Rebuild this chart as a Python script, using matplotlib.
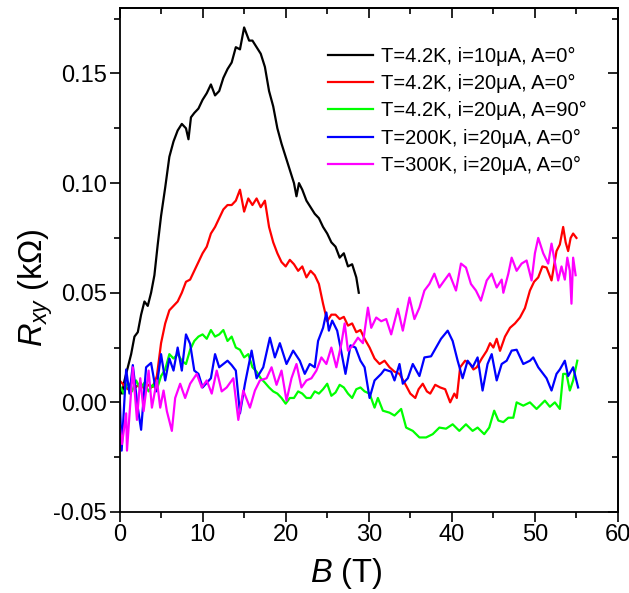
import matplotlib
matplotlib.use("Agg")
import matplotlib.pyplot as plt
from matplotlib.ticker import MultipleLocator

plt.rcParams['font.family'] = ['Liberation Sans', 'DejaVu Sans']
plt.rcParams['mathtext.fontset'] = 'custom'
plt.rcParams['mathtext.rm'] = 'Liberation Sans'
plt.rcParams['mathtext.it'] = 'Liberation Sans:italic'

# T=4.2K, i=10uA, A=0
bx = [0, 0.3, 0.6, 1.0, 1.4, 1.8, 2.2, 2.6, 3.0, 3.4, 3.8, 4.2, 4.6, 5.0, 5.5, 6.0, 6.5, 7.0, 7.5, 8.0,
      8.3, 8.6, 9.0, 9.5, 10.0, 10.5, 11.0, 11.5, 12.0, 12.5, 13.0, 13.5, 14.0, 14.5, 15.0, 15.3, 15.6, 16.0, 16.5, 17.0,
      17.5, 18.0, 18.5, 19.0, 19.5, 20.0, 20.5, 21.0, 21.3, 21.6, 22.0, 22.5, 23.0, 23.5, 24.0, 24.5, 25.0, 25.5, 26.0, 26.5,
      27.0, 27.5, 28.0, 28.5, 28.8]
by = [0.006, 0.004, 0.01, 0.016, 0.022, 0.03, 0.032, 0.04, 0.046, 0.044, 0.05, 0.058, 0.072, 0.085, 0.098, 0.112, 0.119, 0.124, 0.127, 0.125,
      0.12, 0.13, 0.132, 0.134, 0.138, 0.141, 0.145, 0.14, 0.142, 0.148, 0.152, 0.155, 0.162, 0.161, 0.171, 0.168, 0.165, 0.165, 0.162, 0.159,
      0.153, 0.142, 0.135, 0.125, 0.118, 0.112, 0.106, 0.1, 0.094, 0.1, 0.097, 0.092, 0.089, 0.086, 0.084, 0.08, 0.077, 0.073, 0.071, 0.066,
      0.068, 0.062, 0.063, 0.057, 0.05]

# T=4.2K, i=20uA, A=0
rx = [0, 0.5, 1.0, 1.5, 2.0, 2.5, 3.0, 3.5, 4.0, 4.5, 5.0, 5.5, 6.0, 6.5, 7.0, 7.5, 8.0, 8.5, 9.0, 9.5,
      10.0, 10.5, 11.0, 11.5, 12.0, 12.5, 13.0, 13.5, 14.0, 14.5, 15.0, 15.5, 16.0, 16.5, 17.0, 17.5, 18.0, 18.5, 19.0, 19.5,
      20.0, 20.5, 21.0, 21.5, 22.0, 22.5, 23.0, 23.5, 24.0, 24.5, 25.0, 25.5, 26.0, 26.5, 27.0, 27.5, 28.0, 28.5, 29.0, 29.5,
      30.1, 30.7, 31.3, 31.9, 32.5, 33.1, 33.7, 34.3, 35.0, 35.6, 36.0, 36.5, 37.0, 37.4, 38.0, 38.6, 39.2, 39.8, 40.3, 40.6,
      41.0, 41.6, 42.2, 42.6, 43.0, 43.6, 44.2, 44.6, 45.0, 45.4, 45.8, 46.4, 47.0, 47.6, 48.2, 48.8, 49.4, 49.9, 50.4, 50.9,
      51.4, 52.0, 52.6, 53.0, 53.4, 53.7, 54.0, 54.3, 54.6, 55.0]
ry = [0.01, 0.008, 0.006, 0.01, 0.007, 0.009, 0.006, 0.008, 0.007, 0.012, 0.027, 0.036, 0.042, 0.044, 0.046, 0.05, 0.055, 0.056, 0.06, 0.064,
      0.068, 0.071, 0.077, 0.08, 0.084, 0.088, 0.09, 0.09, 0.092, 0.097, 0.087, 0.093, 0.09, 0.093, 0.089, 0.092, 0.08, 0.073, 0.068, 0.064,
      0.062, 0.065, 0.063, 0.06, 0.062, 0.057, 0.06, 0.058, 0.054, 0.045, 0.037, 0.04, 0.04, 0.038, 0.039, 0.035, 0.036, 0.032, 0.033, 0.029,
      0.025, 0.02, 0.0175, 0.019, 0.016, 0.014, 0.013, 0.009, 0.004, 0.002, 0.006, 0.0085, 0.005, 0.004, 0.008, 0.0068, 0.006, 0.0, 0.004, 0.002,
      0.016, 0.019, 0.0175, 0.015, 0.016, 0.02, 0.0235, 0.027, 0.025, 0.029, 0.0235, 0.03, 0.034, 0.036, 0.0387, 0.043, 0.051, 0.055, 0.057, 0.062,
      0.0615, 0.0556, 0.069, 0.072, 0.08, 0.073, 0.069, 0.075, 0.077, 0.075]

# T=4.2K, i=20uA, A=90
gx = [0, 0.5, 1.0, 1.5, 2.0, 2.5, 3.0, 3.5, 4.0, 4.5, 5.0, 5.5, 6.0, 6.5, 7.0, 7.5, 8.0, 8.5, 9.0, 9.5,
      10.0, 10.5, 11.0, 11.5, 12.0, 12.5, 13.0, 13.5, 14.0, 14.5, 15.0, 15.5, 16.0, 16.5, 17.0, 17.5, 18.0, 18.5, 19.0, 19.5,
      20.0, 20.5, 21.0, 21.5, 22.0, 22.5, 23.0, 23.5, 24.0, 24.5, 25.0, 25.5, 26.0, 26.5, 27.0, 27.5, 28.0, 28.5, 29.0, 29.5,
      30.1, 30.7, 31.1, 31.7, 32.5, 33.1, 33.9, 34.5, 35.3, 36.1, 36.9, 37.7, 38.5, 39.3, 40.1, 40.9, 41.7, 42.5, 43.1, 43.9,
      44.5, 45.1, 45.6, 46.2, 46.8, 47.4, 47.8, 48.6, 49.4, 50.2, 51.2, 51.8, 52.4, 53.0, 53.4, 53.8, 54.2, 54.6, 55.1]
gy = [0.008, 0.004, 0.009, 0.005, 0.01, 0.006, 0.009, 0.005, 0.008, 0.006, 0.012, 0.015, 0.022, 0.02, 0.022, 0.019, 0.0175, 0.024, 0.028, 0.03,
      0.031, 0.029, 0.033, 0.03, 0.031, 0.033, 0.028, 0.03, 0.025, 0.024, 0.0205, 0.022, 0.016, 0.014, 0.011, 0.009, 0.0068, 0.005, 0.004, 0.002,
      -0.0006, 0.002, 0.002, 0.005, 0.004, 0.002, 0.002, 0.005, 0.004, 0.006, 0.0085, 0.003, 0.0045, 0.008, 0.0068, 0.004, 0.002, 0.006, 0.0068, 0.005,
      0.004, -0.0024, 0.002, -0.0038, -0.0047, -0.006, -0.003, -0.0115, -0.013, -0.016, -0.016, -0.0145, -0.0115, -0.012, -0.01, -0.013, -0.01, -0.013, -0.0115, -0.0145,
      -0.0115, -0.0038, -0.0083, -0.009, -0.007, -0.007, 0.0, -0.0015, 0.0, -0.003, 0.0008, -0.002, 0.0, -0.003, 0.013, 0.013, 0.0054, 0.01, 0.019]

# T=200K, i=20uA, A=0
blx = [0, 0.26, 0.5, 0.8, 1.2, 1.6, 2.2, 2.6, 3.2, 3.8, 4.4, 5.0, 5.5, 6.0, 6.5, 7.0, 7.5, 8.0, 8.5, 9.0,
       9.5, 10.0, 11.0, 11.5, 12.0, 13.0, 13.5, 14.0, 14.5, 15.1, 15.9, 16.5, 17.3, 18.1, 18.7, 19.3, 20.1, 20.9, 21.7, 22.3,
       22.9, 23.5, 23.9, 24.5, 24.9, 25.2, 25.6, 26.2, 26.6, 27.2, 27.8, 28.4, 29.0, 29.5, 30.1, 30.7, 31.5, 31.9, 32.7, 33.1,
       33.7, 34.1, 34.7, 35.3, 36.1, 36.7, 37.5, 38.1, 38.7, 39.5, 40.1, 40.7, 41.3, 41.9, 42.5, 43.1, 43.7, 44.3, 44.8, 45.4,
       46.0, 46.6, 47.2, 47.8, 48.6, 49.4, 49.8, 50.4, 51.4, 52.0, 52.6, 53.0, 53.6, 54.0, 54.6, 55.2]
bly = [0.005, -0.022, -0.005, 0.015, 0.004, 0.017, -0.0024, -0.0125, 0.016, 0.018, 0.005, 0.022, 0.01, 0.02, 0.0145, 0.025, 0.0145, 0.031, 0.0267, 0.0145,
       0.013, 0.0068, 0.011, 0.022, 0.016, 0.019, 0.017, 0.0145, -0.005, 0.0085, 0.0236, 0.011, 0.016, 0.0295, 0.0205, 0.027, 0.0175, 0.0236, 0.019, 0.013,
       0.0175, 0.016, 0.028, 0.034, 0.041, 0.0327, 0.0373, 0.0327, 0.025, 0.013, 0.026, 0.025, 0.019, 0.016, 0.002, 0.01, 0.013, 0.015, 0.014, 0.01,
       0.0175, 0.0085, 0.011, 0.0175, 0.012, 0.0205, 0.021, 0.025, 0.029, 0.0327, 0.028, 0.019, 0.011, 0.019, 0.016, 0.0205, 0.0054, 0.0175, 0.022, 0.01,
       0.0175, 0.019, 0.0236, 0.024, 0.0175, 0.019, 0.0205, 0.016, 0.011, 0.0054, 0.013, 0.015, 0.019, 0.012, 0.016, 0.0068]

# T=300K, i=20uA, A=0
mx = [0, 0.3, 0.8, 0.9, 1.6, 2.1, 2.5, 2.9, 3.5, 3.9, 4.5, 4.9, 5.3, 5.7, 6.3, 6.7, 7.3, 7.9, 8.5, 9.3,
      9.9, 10.5, 11.1, 11.7, 12.3, 12.9, 13.7, 14.3, 14.9, 15.7, 16.3, 16.9, 17.7, 18.3, 18.9, 19.5, 20.1, 20.7, 21.3, 21.9,
      22.5, 23.1, 23.7, 24.3, 24.9, 25.5, 26.1, 26.7, 27.1, 27.5, 28.1, 28.7, 29.3, 29.9, 30.3, 30.9, 31.5, 32.1, 32.7, 33.5,
      34.1, 34.9, 35.5, 36.1, 36.7, 37.3, 37.9, 38.5, 39.1, 39.7, 40.5, 41.1, 41.7, 42.3, 42.9, 43.5, 44.2, 44.8, 45.4, 46.0,
      46.2, 46.8, 47.2, 47.8, 48.4, 49.0, 49.6, 50.0, 50.4, 51.0, 51.6, 52.0, 52.4, 52.8, 53.2, 53.6, 53.9, 54.2, 54.4, 54.6, 54.9]
my = [-0.01, -0.019, -0.005, -0.022, 0.016, -0.008, 0.011, -0.004, 0.0145, -0.0024, 0.01, -0.0024, 0.0054, -0.004, -0.013, 0.002, 0.0085, 0.002, 0.0085, 0.013,
      0.0068, 0.01, 0.004, 0.0145, 0.005, 0.0068, 0.011, -0.008, 0.0054, -0.0024, 0.0054, 0.01, 0.011, 0.016, 0.008, 0.0145, 0.0008, 0.011, 0.0175, 0.0068,
      0.01, 0.011, 0.0145, 0.0205, 0.0175, 0.025, 0.016, 0.0267, 0.036, 0.0236, 0.026, 0.0295, 0.027, 0.0432, 0.034, 0.0387, 0.037, 0.038, 0.031, 0.0427,
      0.0327, 0.0478, 0.038, 0.0432, 0.051, 0.054, 0.0587, 0.0524, 0.0556, 0.0587, 0.051, 0.0633, 0.0615, 0.054, 0.051, 0.0464, 0.0556, 0.0587, 0.0524, 0.056,
      0.05, 0.0587, 0.066, 0.06, 0.0633, 0.0647, 0.0556, 0.068, 0.075, 0.068, 0.0633, 0.0724, 0.064, 0.0556, 0.062, 0.056, 0.066, 0.06, 0.045, 0.066, 0.058]

labels = ["T=4.2K, i=10\u03bcA, A=0\u00b0", "T=4.2K, i=20\u03bcA, A=0\u00b0", "T=4.2K, i=20\u03bcA, A=90\u00b0",
          "T=200K, i=20\u03bcA, A=0\u00b0", "T=300K, i=20\u03bcA, A=0\u00b0"]
colors = ["#000000", "#ff0000", "#00ff00", "#0000ff", "#ff00ff"]

fig = plt.figure(figsize=(6.29, 5.93), dpi=100)
ax = fig.add_axes([0.19, 0.1366, 0.7925, 0.8504])

ax.plot(bx, by, color=colors[0], lw=1.6, label=labels[0])
ax.plot(rx, ry, color=colors[1], lw=1.6, label=labels[1])
ax.plot(gx, gy, color=colors[2], lw=1.6, label=labels[2])
ax.plot(blx, bly, color=colors[3], lw=1.6, label=labels[3])
ax.plot(mx, my, color=colors[4], lw=1.6, label=labels[4])

ax.set_xlim(0, 60)
ax.set_ylim(-0.05, 0.18)
ax.xaxis.set_major_locator(MultipleLocator(10))
ax.xaxis.set_minor_locator(MultipleLocator(5))
ax.yaxis.set_major_locator(MultipleLocator(0.05))
ax.yaxis.set_minor_locator(MultipleLocator(0.025))
ax.yaxis.set_major_formatter(lambda v, p: "%.2f" % v)

ax.tick_params(which='both', direction='out', top=False, right=False, labelsize=17, width=1.2)
ax.tick_params(which='major', length=7, pad=2)
ax.tick_params(which='minor', length=4)
for s in ax.spines.values():
    s.set_linewidth(1.3)

# inward ticks on the top and right frame
top = ax.secondary_xaxis('top')
top.xaxis.set_major_locator(MultipleLocator(10))
top.xaxis.set_minor_locator(MultipleLocator(5))
top.tick_params(which='both', direction='in', labeltop=False, width=1.2)
top.tick_params(which='major', length=7)
top.tick_params(which='minor', length=4)
right = ax.secondary_yaxis('right')
right.yaxis.set_major_locator(MultipleLocator(0.05))
right.yaxis.set_minor_locator(MultipleLocator(0.025))
right.tick_params(which='both', direction='in', labelright=False, width=1.2)
right.tick_params(which='major', length=7)
right.tick_params(which='minor', length=4)
top.spines['top'].set_linewidth(1.3)
right.spines['right'].set_linewidth(1.3)

ax.set_xlabel(r"$B$ (T)", fontsize=23.5)
ax.xaxis.set_label_coords(0.454, -0.088)
ax.set_ylabel("$R_{xy}$ (k\u03a9)", fontsize=23.5)
ax.yaxis.set_label_coords(-0.13, 0.444)

ax.legend(loc='upper left', bbox_to_anchor=(0.418, 0.923), frameon=False, fontsize=14.5,
          borderpad=0, borderaxespad=0, handlelength=2.25, handletextpad=0.4, labelspacing=0.41)

plt.savefig("out.png", dpi=100)
